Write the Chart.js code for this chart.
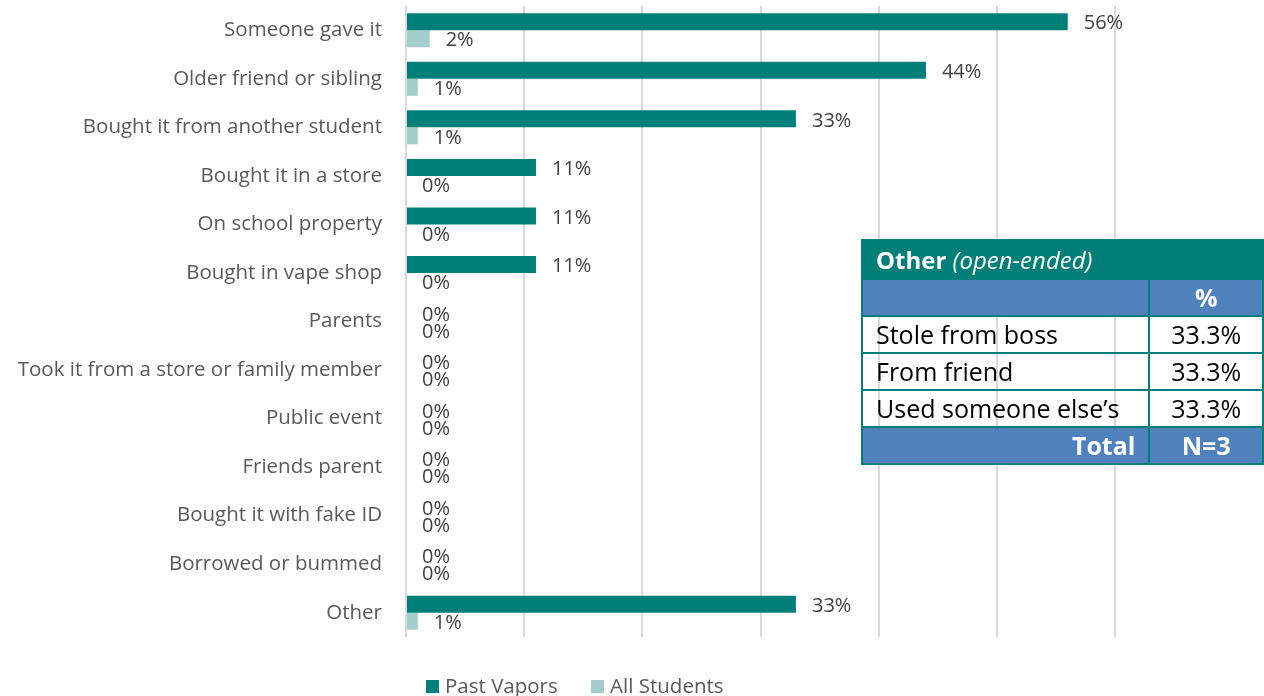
<!DOCTYPE html>
<html>
<head>
<meta charset="utf-8">
<script src="https://cdn.jsdelivr.net/npm/chart.js@4"></script>
<style>
  html, body { margin: 0; padding: 0; background: #fff; }
  #wrap { position: relative; width: 1264px; height: 696px; overflow: hidden; }
  #chart { position: absolute; left: 0; top: 0; }
  .legend { position: absolute; top: 671px; left: 426px; font: 20.5px "Open Sans", sans-serif; color: #595959; white-space: nowrap; }
  .legend span.box { display: inline-block; width: 13px; height: 13px; margin-right: 6px; vertical-align: 0px; }
  .legend span.item { margin-right: 28px; }
  table.other { position: absolute; left: 861px; top: 239px; border-collapse: collapse; font-family: "Open Sans", sans-serif; font-size: 25px; color: #000; }
  table.other td { border: 2px solid #007F78; height: 35px; padding: 0 13px; line-height: 33px; white-space: nowrap; }
  table.other tr.head td { background: #007F78; color: #fff; height: 37px; font-size: 24px; }
  table.other tr.blue td { background: #4F81BD; color: #fff; font-weight: bold; }
  table.other td.num { text-align: center; width: 88px; }
</style>
</head>
<body>
<div id="wrap">
  <canvas id="chart" width="1264" height="696"></canvas>
  <div class="legend">
    <span class="item"><span class="box" style="background:#007F78"></span>Past Vapors</span>
    <span class="item"><span class="box" style="background:#A2CDCB"></span>All Students</span>
  </div>
  <table class="other">
    <tr class="head"><td colspan="2"><b>Other</b> <i>(open-ended)</i></td></tr>
    <tr class="blue"><td style="width:262px"></td><td class="num">%</td></tr>
    <tr><td>Stole from boss</td><td class="num">33.3%</td></tr>
    <tr><td>From friend</td><td class="num">33.3%</td></tr>
    <tr><td>Used someone else’s</td><td class="num">33.3%</td></tr>
    <tr class="blue"><td style="text-align:right">Total</td><td class="num">N=3</td></tr>
  </table>
</div>
<script>
// where students got their vape
const sources = [
  'Someone gave it',
  'Older friend or sibling',
  'Bought it from another student',
  'Bought it in a store',
  'On school property',
  'Bought in vape shop',
  'Parents',
  'Took it from a store or family member',
  'Public event',
  'Friends parent',
  'Bought it with fake ID',
  'Borrowed or bummed',
  'Other'
];
const pastVapors  = [56, 44, 33, 11, 11, 11, 0, 0, 0, 0, 0, 0, 33];
const allStudents = [2, 1, 1, 0, 0, 0, 0, 0, 0, 0, 0, 0, 1];
const xTicks = [0, 10, 20, 30, 40, 50, 60];

// value labels, drawn outside the plot area so 56% is not clipped
const barLabels = {
  id: 'barLabels',
  afterDatasetsDraw(chart) {
    const ctx = chart.ctx;
    ctx.save();
    ctx.font = '20px "Open Sans", sans-serif';
    ctx.fillStyle = '#404040';
    ctx.textBaseline = 'middle';
    ctx.textAlign = 'left';
    chart.data.datasets.forEach((ds, i) => {
      chart.getDatasetMeta(i).data.forEach((bar, j) => {
        const dy = i === 0 ? 2 : 2;
        ctx.fillText(ds.data[j] + '%', bar.x + 16, bar.y + dy);
      });
    });
    ctx.restore();
  }
};

new Chart(document.getElementById('chart'), {
  type: 'bar',
  data: {
    labels: sources,
    datasets: [{
      label: 'Past Vapors',
      data: pastVapors,
      backgroundColor: '#007F78',
      categoryPercentage: 0.7,
      barPercentage: 1
    }, {
      label: 'All Students',
      data: allStudents,
      backgroundColor: '#A2CDCB',
      categoryPercentage: 0.7,
      barPercentage: 1
    }]
  },
  options: {
    indexAxis: 'y',
    responsive: false,
    animation: false,
    layout: { padding: { top: 6, right: 149, bottom: 59, left: 0 } },
    scales: {
      x: {
        min: 0,
        max: 60,
        afterBuildTicks: scale => { scale.ticks = xTicks.map(v => ({ value: v })); },
        ticks: { display: false },
        grid: { color: '#D9D9D9', lineWidth: 2, drawTicks: false },
        border: { display: false }
      },
      y: {
        grid: { display: false, drawTicks: false },
        border: { display: false },
        ticks: {
          padding: 24,
          color: '#595959',
          font: { family: '"Open Sans", sans-serif', size: 20.5 }
        },
        afterFit: scale => {
          scale.width = 406;
          scale.paddingTop = 0;
          scale.paddingBottom = 0;
        }
      }
    },
    plugins: {
      legend: { display: false },
      tooltip: { enabled: false }
    }
  },
  plugins: [barLabels]
});
</script>
</body>
</html>
